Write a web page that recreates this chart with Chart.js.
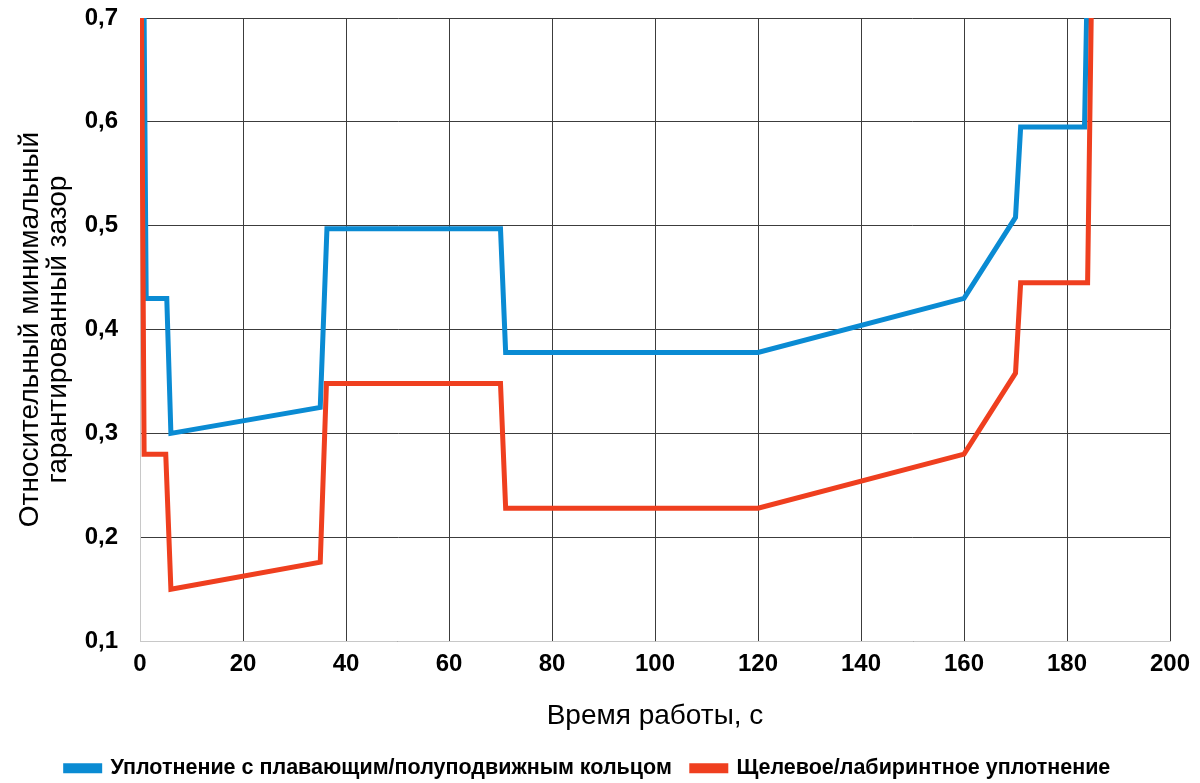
<!DOCTYPE html>
<html>
<head>
<meta charset="utf-8">
<script src="https://cdn.jsdelivr.net/npm/chart.js@4"></script>
<style>
    html, body { margin: 0; padding: 0; background: #fff; }
    #wrap { width: 1200px; height: 783px; position: relative; }
</style>
</head>
<body>
<div id="wrap"><canvas id="lineChart"></canvas></div>
<script>
// Data
const seriesNames = [
    'Уплотнение с плавающим/полуподвижным кольцом',
    'Щелевое/лабиринтное уплотнение'
];
const blueX = [0.8, 1.2, 5.2, 6, 35, 36.3, 70, 71, 120, 160, 170, 171, 183.4, 183.8];
const blueY = [0.7, 0.43, 0.43, 0.30, 0.325, 0.497, 0.497, 0.378, 0.378, 0.43, 0.508, 0.595, 0.595, 0.7];
const redX = [0.3, 0.8, 5, 6, 35, 36.2, 70, 71, 120, 160, 170, 171, 184, 184.7];
const redY = [0.7, 0.28, 0.28, 0.15, 0.176, 0.348, 0.348, 0.228, 0.228, 0.28, 0.358, 0.445, 0.445, 0.7];

const toPoints = (xs, ys) => xs.map((x, i) => ({ x: x, y: ys[i] }));

const blue = '#0A8BD3';
const red = '#EF3F1F';
const gridColor = '#3c3c3c';

function createLineChart() {
    const ctx = document.getElementById('lineChart').getContext('2d');
    new Chart(ctx, {
        type: 'line',
        data: {
            datasets: [{
                label: seriesNames[0],
                data: toPoints(blueX, blueY),
                borderColor: blue,
                backgroundColor: blue,
                borderWidth: 5,
                pointRadius: 0,
                tension: 0,
                order: 1
            }, {
                label: seriesNames[1],
                data: toPoints(redX, redY),
                borderColor: red,
                backgroundColor: red,
                borderWidth: 5,
                pointRadius: 0,
                tension: 0,
                order: 0
            }]
        },
        options: {
            responsive: true,
            maintainAspectRatio: false,
            animation: false,
            layout: {
                padding: { top: 0, right: 30, left: 6, bottom: -6 }
            },
            plugins: {
                tooltip: { enabled: false },
                legend: {
                    position: 'bottom',
                    labels: {
                        boxWidth: 34,
                        boxHeight: 5,
                        padding: 20,
                        color: '#000',
                        font: { family: 'Liberation Sans', size: 21.5, weight: 'bold' },
                        sort: (a, b) => a.datasetIndex - b.datasetIndex
                    }
                }
            },
            scales: {
                x: {
                    type: 'linear',
                    min: 0,
                    max: 200,
                    ticks: {
                        stepSize: 20,
                        color: '#000',
                        padding: 9,
                        font: { family: 'Liberation Sans', size: 24, weight: 'bold' }
                    },
                    grid: { color: gridColor, lineWidth: 1, drawTicks: false },
                    border: { color: '#c8c8c8', width: 1 },
                    title: {
                        display: true,
                        text: 'Время работы, с',
                        color: '#000',
                        padding: { top: 12, bottom: 4 },
                        font: { family: 'Liberation Sans', size: 28 }
                    }
                },
                y: {
                    min: 0.1,
                    max: 0.7,
                    afterFit: scale => {
                        scale.width = 134;
                        scale.paddingTop = 18;
                    },
                    ticks: {
                        stepSize: 0.1,
                        color: '#000',
                        padding: 22,
                        font: { family: 'Liberation Sans', size: 24, weight: 'bold' },
                        callback: value => value.toFixed(1).replace('.', ',')
                    },
                    grid: { color: gridColor, lineWidth: 1, drawTicks: false },
                    border: { color: '#c8c8c8', width: 1 },
                    title: {
                        display: true,
                        text: ['Относительный минимальный', 'гарантированный зазор'],
                        color: '#000',
                        padding: { top: 10, bottom: 4 },
                        font: { family: 'Liberation Sans', size: 28, lineHeight: 1.0 }
                    }
                }
            }
        }
    });
}

window.addEventListener('load', createLineChart);
</script>
</body>
</html>
